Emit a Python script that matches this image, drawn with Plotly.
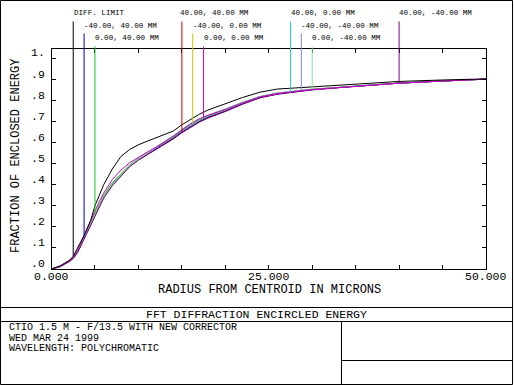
import plotly.graph_objects as go
import numpy as np

W, H = 514, 385

# ---------------- data ----------------
radius = [0, 1, 2, 2.5, 3, 3.75, 4.5, 5, 5.5, 6, 7, 8, 9, 10, 11, 12, 13, 14, 15, 16,
          17, 18, 20, 22, 24, 26, 28, 30, 33, 36, 40, 45, 50]

diff_limit = [0, 0.015, 0.04, 0.06, 0.10, 0.16, 0.23, 0.30, 0.35, 0.40, 0.475, 0.535, 0.568,
              0.59, 0.607, 0.622, 0.637, 0.655, 0.685, 0.71, 0.735, 0.755, 0.785, 0.815,
              0.84, 0.855, 0.86, 0.865, 0.873, 0.882, 0.891, 0.898, 0.903]

f_40_40 = [0, 0.012, 0.035, 0.05, 0.08, 0.145, 0.21, 0.26, 0.30, 0.34, 0.40, 0.445, 0.49,
           0.52, 0.545, 0.57, 0.595, 0.62, 0.65, 0.675, 0.70, 0.72, 0.75, 0.785, 0.815,
           0.832, 0.843, 0.852, 0.862, 0.872, 0.883, 0.893, 0.902]
f_m40_40 = [0, 0.012, 0.036, 0.052, 0.083, 0.148, 0.212, 0.262, 0.302, 0.342, 0.402, 0.447,
            0.49, 0.52, 0.545, 0.57, 0.595, 0.62, 0.65, 0.675, 0.70, 0.72, 0.75, 0.785,
            0.815, 0.832, 0.843, 0.852, 0.862, 0.872, 0.883, 0.893, 0.902]
f_0_40 = [0, 0.013, 0.037, 0.054, 0.086, 0.152, 0.22, 0.27, 0.31, 0.35, 0.41, 0.455, 0.495,
          0.525, 0.55, 0.575, 0.60, 0.625, 0.655, 0.68, 0.705, 0.725, 0.755, 0.79, 0.818,
          0.835, 0.845, 0.854, 0.863, 0.873, 0.884, 0.894, 0.902]
f_m40_0 = [0, 0.012, 0.035, 0.05, 0.08, 0.145, 0.21, 0.26, 0.30, 0.34, 0.40, 0.447, 0.49,
           0.522, 0.548, 0.575, 0.60, 0.628, 0.66, 0.688, 0.71, 0.728, 0.757, 0.79, 0.818,
           0.835, 0.845, 0.853, 0.862, 0.872, 0.883, 0.893, 0.902]
f_0_0 = [0, 0.013, 0.038, 0.055, 0.088, 0.155, 0.225, 0.275, 0.32, 0.36, 0.425, 0.47, 0.505,
         0.532, 0.555, 0.578, 0.603, 0.63, 0.66, 0.69, 0.713, 0.73, 0.758, 0.79, 0.818,
         0.834, 0.844, 0.853, 0.862, 0.872, 0.883, 0.893, 0.902]
f_40_0 = [0, 0.012, 0.035, 0.05, 0.08, 0.145, 0.21, 0.26, 0.30, 0.34, 0.40, 0.447, 0.49,
          0.523, 0.55, 0.578, 0.605, 0.632, 0.663, 0.69, 0.712, 0.73, 0.76, 0.793, 0.82,
          0.836, 0.845, 0.853, 0.862, 0.872, 0.883, 0.893, 0.902]
f_m40_m40 = [0, 0.012, 0.035, 0.05, 0.08, 0.145, 0.21, 0.26, 0.30, 0.34, 0.40, 0.446, 0.49,
             0.521, 0.548, 0.575, 0.602, 0.63, 0.66, 0.687, 0.71, 0.728, 0.757, 0.79,
             0.818, 0.835, 0.845, 0.853, 0.862, 0.872, 0.883, 0.893, 0.902]
f_0_m40 = [0, 0.012, 0.035, 0.051, 0.081, 0.146, 0.211, 0.262, 0.302, 0.342, 0.402, 0.448,
           0.491, 0.523, 0.55, 0.578, 0.605, 0.633, 0.663, 0.69, 0.712, 0.73, 0.76, 0.793,
           0.82, 0.836, 0.846, 0.855, 0.863, 0.873, 0.884, 0.894, 0.902]
f_40_m40 = [0, 0.011, 0.034, 0.049, 0.078, 0.142, 0.206, 0.256, 0.296, 0.336, 0.396, 0.442,
            0.486, 0.517, 0.542, 0.567, 0.592, 0.617, 0.647, 0.672, 0.697, 0.717, 0.748,
            0.783, 0.813, 0.83, 0.842, 0.851, 0.861, 0.871, 0.883, 0.893, 0.902]

series_names = ["DIFF. LIMIT", "-40.00, 40.00 MM", "0.00, 40.00 MM",
                "40.00, 40.00 MM", "-40.00, 0.00 MM", "0.00, 0.00 MM",
                "40.00, 0.00 MM", "-40.00, -40.00 MM", "0.00, -40.00 MM",
                "40.00, -40.00 MM"]
series_values = [diff_limit, f_m40_40, f_0_40, f_40_40, f_m40_0, f_0_0,
                 f_40_0, f_m40_m40, f_0_m40, f_40_m40]
label_radius = [2.5, 3.75, 5.0, 15.0, 16.25, 17.5, 27.5, 28.75, 30.0, 40.0]

x_tick_vals = [0, 5, 10, 15, 20, 25, 30, 35, 40, 45, 50]
x_tick_text = {0: "0.000", 25: "25.000", 50: "50.000"}
y_tick_vals = [0, 0.1, 0.2, 0.3, 0.4, 0.5, 0.6, 0.7, 0.8, 0.9, 1.0]
y_tick_text = [".0", ".1", ".2", ".3", ".4", ".5", ".6", ".7", ".8", ".9", "1."]

# ---------------- styles ----------------
colors = ["#000000", "#0000c8", "#18c818", "#d00000", "#c8c800", "#c800c8",
          "#18d0d0", "#8080e8", "#88e088", "#800080"]
# label placement (left x px, center y px, leader top px)
label_pos = [(72, 13, 20), (82, 26, 32), (93, 38, 45), (178, 13, 20), (191, 26, 32),
             (202, 38, 45), (289, 13, 20), (299, 26, 32), (310, 38, 45), (397, 13, 20)]

FONT = "Liberation Mono, DejaVu Sans Mono, monospace"
px = lambda x: x / W
py = lambda y: 1 - y / H

X0, X1 = 51.5, 486.0
YB, YT = 269.0, 49.0
Y1 = 58.5  # pixel of value 1.0
YMAX = (YB - YT) / (YB - Y1)

fig = go.Figure()

draw_order = [3, 1, 2, 4, 6, 7, 8, 9, 5, 0]
for i in draw_order:
    fig.add_trace(go.Scatter(x=radius, y=series_values[i], mode="lines",
                             line=dict(color=colors[i], width=1), showlegend=False,
                             hoverinfo="skip"))

annotations = []
# leader lines & labels
for i, name in enumerate(series_names):
    lx, ly, ltop = label_pos[i]
    r = label_radius[i]
    yv = float(np.interp(r, radius, series_values[i]))
    ytop = (YB - ltop) / (YB - Y1)
    annotations.append(dict(x=r, y=yv, xref="x", yref="y", ax=r, ay=ytop,
                            axref="x", ayref="y", text="", showarrow=True,
                            arrowhead=0, arrowwidth=1, arrowcolor=colors[i],
                            standoff=0, startstandoff=0, font=dict(size=1)))
    annotations.append(dict(x=px(lx), y=py(ly), xref="paper", yref="paper",
                            xanchor="left", yanchor="middle", text=name,
                            showarrow=False,
                            font=dict(family=FONT, size=7.6, color="black")))

# y tick labels (drawn slightly above ticks as in the original)
for v, t in zip(y_tick_vals, y_tick_text):
    annotations.append(dict(x=px(46.5), y=v, xref="paper", yref="y", xanchor="right",
                            yanchor="middle", yshift=5.5, text=t, showarrow=False,
                            font=dict(family=FONT, size=11.5, color="black")))
# x tick labels
for v, t in x_tick_text.items():
    annotations.append(dict(x=v, y=py(276.5), xref="x", yref="paper", xanchor="center",
                            yanchor="middle", text=t, showarrow=False,
                            font=dict(family=FONT, size=11.5, color="black")))

# axis titles
annotations.append(dict(x=px(269), y=py(289.5), xref="paper", yref="paper",
                        text="RADIUS FROM CENTROID IN MICRONS", showarrow=False,
                        xanchor="center", yanchor="middle",
                        font=dict(family=FONT, size=12, color="black")))
annotations.append(dict(x=px(16), y=py(156), xref="paper", yref="paper",
                        text="FRACTION OF ENCLOSED ENERGY", showarrow=False,
                        textangle=-90, xanchor="center", yanchor="middle",
                        font=dict(family=FONT, size=12, color="black")))

# title block text
annotations.append(dict(x=px(256), y=py(314.5), xref="paper", yref="paper",
                        text="FFT DIFFRACTION ENCIRCLED ENERGY", showarrow=False,
                        xanchor="center", yanchor="middle",
                        font=dict(family=FONT, size=11.5, color="black")))
for txt, yy in [("CTIO 1.5 M - F/13.5 WITH NEW CORRECTOR", 327.5),
                ("WED MAR 24 1999", 338),
                ("WAVELENGTH: POLYCHROMATIC", 348.5)]:
    annotations.append(dict(x=px(7), y=py(yy), xref="paper", yref="paper", text=txt,
                            showarrow=False, xanchor="left", yanchor="middle",
                            font=dict(family=FONT, size=10, color="black")))

line_style = dict(color="black", width=1)
shapes = [
    dict(type="rect", xref="paper", yref="paper", x0=px(0.5), x1=px(512.5),
         y0=py(0.5), y1=py(384.5), line=line_style),
    dict(type="line", xref="paper", yref="paper", x0=px(0.5), x1=px(512.5),
         y0=py(307.5), y1=py(307.5), line=line_style),
    dict(type="line", xref="paper", yref="paper", x0=px(0.5), x1=px(512.5),
         y0=py(321.5), y1=py(321.5), line=line_style),
    dict(type="line", xref="paper", yref="paper", x0=px(341.5), x1=px(341.5),
         y0=py(321.5), y1=py(384.5), line=line_style),
    dict(type="line", xref="paper", yref="paper", x0=px(341.5), x1=px(512.5),
         y0=py(360.5), y1=py(360.5), line=line_style),
]

fig.update_layout(
    width=W, height=H, margin=dict(l=0, r=0, t=0, b=0),
    paper_bgcolor="white", plot_bgcolor="white",
    xaxis=dict(domain=[px(X0), px(X1)], range=[0, 50], showgrid=False, zeroline=False,
               showline=True, linecolor="black", linewidth=1, mirror="ticks",
               ticks="inside", ticklen=4, tickcolor="black", tickwidth=1,
               tickvals=x_tick_vals, showticklabels=False),
    yaxis=dict(domain=[py(YB), py(YT)], range=[0, YMAX], showgrid=False, zeroline=False,
               showline=True, linecolor="black", linewidth=1, mirror="ticks",
               ticks="inside", ticklen=4, tickcolor="black", tickwidth=1,
               tickvals=y_tick_vals, showticklabels=False),
    annotations=annotations, shapes=shapes, showlegend=False,
)

fig.write_html("out.html", config={"displayModeBar": False},
               post_script="document.body.style.margin='0';document.body.style.overflow='hidden';")
